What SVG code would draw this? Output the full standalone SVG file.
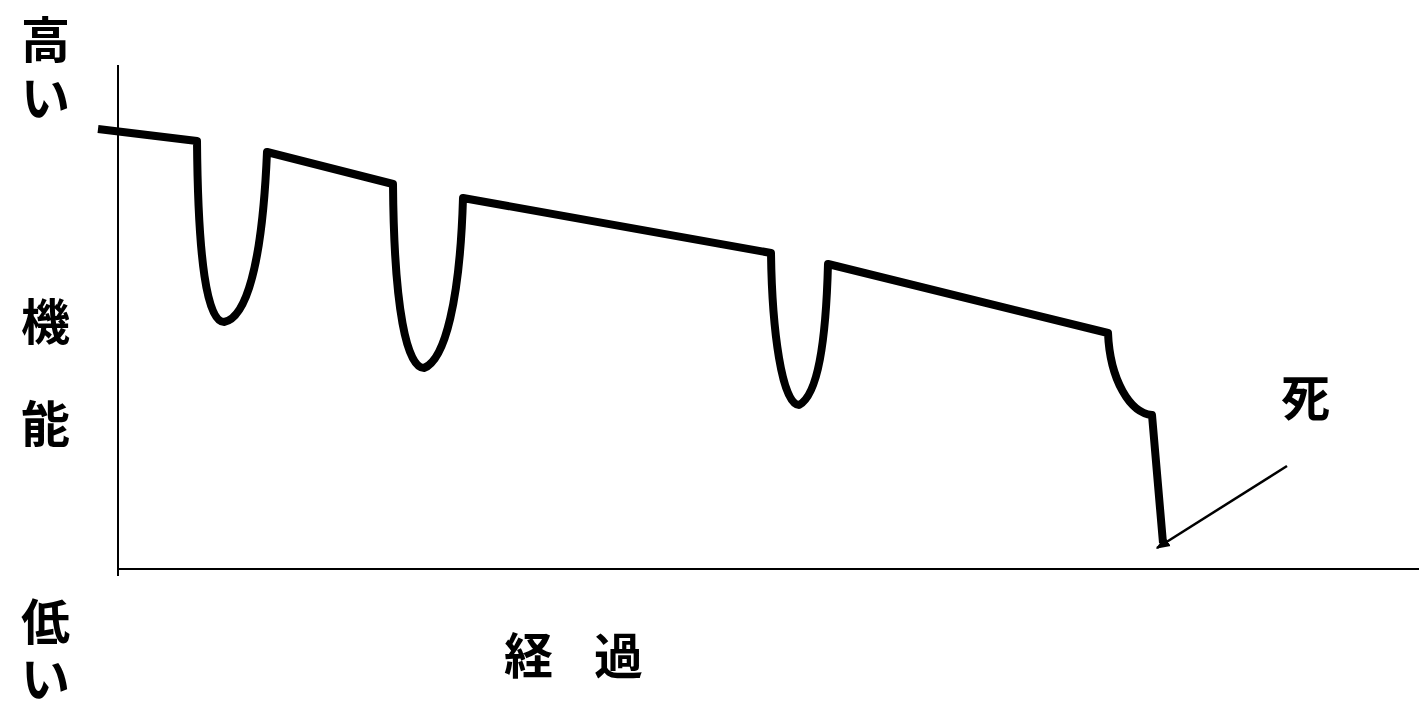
<svg xmlns="http://www.w3.org/2000/svg" width="1419" height="702" viewBox="0 0 1419 702">
<style>
.lbl{font-family:"Noto Sans CJK JP","Noto Sans",sans-serif;font-weight:bold;font-size:49px;fill:#000}
.axis{stroke:#000;stroke-width:2;fill:none}
.curve{stroke:#000;stroke-width:8;fill:none;stroke-linejoin:round;stroke-linecap:butt}
.thin{stroke:#000;stroke-width:2.5;fill:none}
</style>
<defs>
<marker id="arr" viewBox="0 0 10 10" refX="9" refY="5" markerWidth="14" markerHeight="14" orient="auto" markerUnits="userSpaceOnUse">
<path d="M0,1 L10,5 L0,9 z" fill="#000"/>
</marker>
</defs>
<rect width="1419" height="702" fill="#fff"/>
<g id="axes">
<line class="axis" x1="118" y1="65" x2="118" y2="576"/>
<line class="axis" x1="117" y1="569" x2="1419" y2="569"/>
</g>
<g id="labels">
<text class="lbl" x="21" y="58">高</text>
<text class="lbl" x="21" y="116">い</text>
<text class="lbl" x="21" y="340">機</text>
<text class="lbl" x="21" y="442">能</text>
<text class="lbl" x="21" y="640">低</text>
<text class="lbl" x="21" y="697">い</text>
<text class="lbl" x="504 549 594" y="674">経 過</text>
<text class="lbl" x="1281" y="416">死</text>
</g>
<g id="connectors">
<path class="curve" d="M98,129 L197,141 C198,260 207,322 224,322 C245,318 262,270 267,152 L393,184 C394,310 407,368 424,368 C445,360 460,300 463,198 L771,253 C772,330 782,405 799,405 C818,395 826,340 828,264 L1108,333 C1110,380 1130,413 1152,415 L1163,543"/>
<line class="thin" x1="1287" y1="466" x2="1157" y2="548" marker-end="url(#arr)"/>
</g>
</svg>
